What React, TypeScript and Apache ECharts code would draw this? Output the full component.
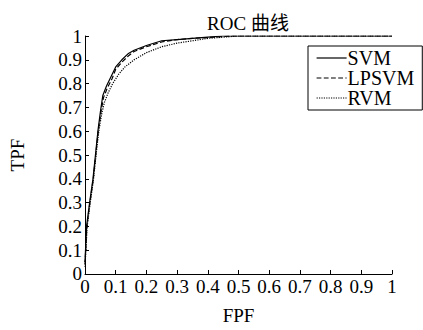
import React, { useEffect, useRef } from "react";
import * as echarts from "echarts";

const titleText = "ROC 曲线";
const xName = "FPF";
const yName = "TPF";
const seriesNames = ["SVM", "LPSVM", "RVM"];

const svmFpf = [0, 0.005, 0.015, 0.026, 0.034, 0.042, 0.05, 0.058, 0.07, 0.085, 0.1, 0.12, 0.14, 0.16, 0.2, 0.25, 0.3, 0.35, 0.4, 0.45, 1];
const svmTpf = [0.05, 0.2, 0.3, 0.4, 0.5, 0.6, 0.68, 0.75, 0.79, 0.83, 0.87, 0.9, 0.925, 0.94, 0.96, 0.98, 0.985, 0.99, 0.995, 1, 1];

const lpsvmFpf = [0, 0.006, 0.016, 0.027, 0.035, 0.043, 0.052, 0.06, 0.072, 0.088, 0.1, 0.12, 0.14, 0.16, 0.2, 0.25, 0.3, 0.35, 0.42, 0.48, 1];
const lpsvmTpf = [0.04, 0.2, 0.3, 0.4, 0.5, 0.6, 0.68, 0.74, 0.78, 0.82, 0.86, 0.89, 0.915, 0.935, 0.955, 0.975, 0.985, 0.99, 0.995, 1, 1];

const rvmFpf = [0, 0.007, 0.017, 0.028, 0.036, 0.045, 0.054, 0.063, 0.075, 0.09, 0.11, 0.13, 0.16, 0.2, 0.25, 0.3, 0.35, 0.4, 0.45, 0.5, 1];
const rvmTpf = [0.03, 0.2, 0.3, 0.4, 0.5, 0.6, 0.67, 0.72, 0.76, 0.8, 0.84, 0.87, 0.9, 0.93, 0.955, 0.97, 0.98, 0.99, 0.995, 1, 1];

const FONT = "Liberation Serif, Noto Sans CJK SC, serif";

function zip(a: number[], b: number[]) {
  return a.map((v, i) => [v, b[i]]);
}

const fmt = (v: number) => (Math.abs(v) < 1e-9 ? "0" : Math.abs(v - 1) < 1e-9 ? "1" : v.toFixed(1));

export default function App() {
  const ref = useRef<HTMLDivElement>(null);
  useEffect(() => {
    if (!ref.current) return;
    const chart = echarts.init(ref.current, undefined, { renderer: "svg" });
    const label = { fontFamily: FONT, fontSize: 19, color: "#000", formatter: fmt, margin: 3 };
    const axisCommon = {
      type: "value" as const,
      min: 0,
      max: 1,
      interval: 0.1,
      nameLocation: "middle" as const,
      nameTextStyle: { fontFamily: FONT, fontSize: 19, color: "#000" },
      axisLine: { show: true, lineStyle: { color: "#000", width: 1 } },
      axisTick: { show: true, inside: true, length: 4, lineStyle: { color: "#000" } },
      axisLabel: label,
      splitLine: { show: false },
    };
    const types = ["solid", "dashed", "dotted"];
    const datas = [zip(svmFpf, svmTpf), zip(lpsvmFpf, lpsvmTpf), zip(rvmFpf, rvmTpf)];
    chart.setOption({
      animation: false,
      backgroundColor: "#fff",
      textStyle: { fontFamily: FONT },
      title: {
        text: titleText,
        left: 243,
        textAlign: "center",
        top: 9,
        textStyle: { fontFamily: FONT, fontSize: 19, fontWeight: "normal", color: "#000" },
      },
      grid: { left: 84, right: 31, top: 36, bottom: 51, containLabel: false },
      xAxis: { ...axisCommon, name: xName, nameGap: 32 },
      yAxis: { ...axisCommon, name: yName, nameGap: 58 },
      legend: {
        data: seriesNames,
        orient: "vertical",
        left: 308,
        top: 46,
        padding: [2, 8, 2, 8],
        itemGap: 0,
        itemWidth: 30,
        itemHeight: 17,
        borderColor: "#000",
        borderWidth: 1,
        borderRadius: 0,
        backgroundColor: "#fff",
        itemStyle: { opacity: 0 },
        lineStyle: { width: 1.2, color: "#000" },
        textStyle: { fontFamily: FONT, fontSize: 20, color: "#000", padding: [0, 0, 0, -4] },
      },
      series: seriesNames.map((n, i) => ({
        name: n,
        type: "line",
        data: datas[i],
        symbol: "none",
        smooth: false,
        lineStyle: { color: "#000", width: 1.2, type: types[i] },
        itemStyle: { color: "#000" },
      })),
    });
    return () => chart.dispose();
  }, []);
  return <div ref={ref} style={{ width: 423, height: 330, position: "absolute", left: 0, top: 0 }} />;
}
